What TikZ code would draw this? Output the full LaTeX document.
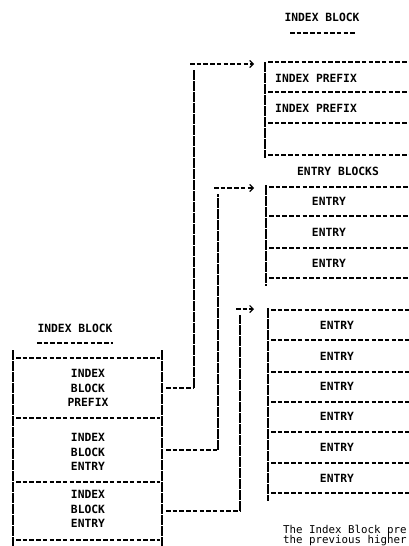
\documentclass[tikz,border=0pt]{standalone}
\usepackage{fontspec}
\setmonofont{DejaVu Sans Mono}
\usetikzlibrary{positioning, arrows.meta}

\begin{document}
\begin{tikzpicture}[
    x=1pt, y=-1pt,
    txt/.style={font=\fontsize{11.3}{14.5}\selectfont\ttfamily\bfseries, inner sep=0pt},
    stack/.style={txt, align=center},
    note/.style={font=\fontsize{10.8}{10}\selectfont\ttfamily, inner sep=0pt, anchor=base west},
    rule/.style={line width=1.3pt, dash pattern=on 4.5pt off 2.2pt},
    bar/.style={line width=1.3pt, dash pattern=on 10pt off 1pt},
    linkarr/.style={rule, -{Straight Barb[length=3.5pt, width=7pt, line width=1.2pt]}}
]
\useasboundingbox (0,0) rectangle (409,546);

% --- Left: index block ---
\node[txt] (lefttitle) at (75,328) {INDEX BLOCK};
\draw[rule] (37,343) -- (113,343);
\draw[bar] (13,350) -- (13,550);
\draw[bar] (162,350) -- (162,550);
\draw[rule] (16,358) -- (160,358);
\draw[rule] (16,418) -- (160,418);
\draw[rule] (16,482) -- (160,482);
\draw[rule] (16,540) -- (160,540);
\node[stack] (ibprefix) at (88,388) {INDEX\\BLOCK\\PREFIX};
\node[stack] (ibentryA) at (88,452) {INDEX\\BLOCK\\ENTRY};
\node[stack] (ibentryB) at (88,509) {INDEX\\BLOCK\\ENTRY};

% --- Right top: index block ---
\node[txt] (toptitle) at (322,17) {INDEX BLOCK};
\draw[rule] (290,33) -- (356,33);
\draw[bar] (265,62) -- (265,158);
\draw[rule] (268,62) -- (412,62);
\draw[rule] (268,92) -- (412,92);
\draw[rule] (268,123) -- (412,123);
\draw[rule] (268,155) -- (412,155);
\node[txt, anchor=west] (prefixA) at (275,78) {INDEX PREFIX};
\node[txt, anchor=west] (prefixB) at (275,108) {INDEX PREFIX};

% --- Right middle: entry blocks ---
\node[txt] (entryblocks) at (338,171) {ENTRY BLOCKS};
\draw[bar] (266,185) -- (266,286);
\draw[rule] (269,187) -- (412,187);
\draw[rule] (269,216) -- (412,216);
\draw[rule] (269,248) -- (412,248);
\draw[rule] (269,278) -- (412,278);
\node[txt] (entryA1) at (329,201) {ENTRY};
\node[txt] (entryA2) at (329,232) {ENTRY};
\node[txt] (entryA3) at (329,263) {ENTRY};

% --- Right lower: entry block ---
\draw[bar] (268,308) -- (268,501);
\draw[rule] (271,310) -- (412,310);
\draw[rule] (271,340) -- (412,340);
\draw[rule] (271,372) -- (412,372);
\draw[rule] (271,402) -- (412,402);
\draw[rule] (271,432) -- (412,432);
\draw[rule] (271,463) -- (412,463);
\draw[rule] (271,493) -- (412,493);
\node[txt] (entryB1) at (337,325) {ENTRY};
\node[txt] (entryB2) at (337,356) {ENTRY};
\node[txt] (entryB3) at (337,386) {ENTRY};
\node[txt] (entryB4) at (337,416) {ENTRY};
\node[txt] (entryB5) at (337,447) {ENTRY};
\node[txt] (entryB6) at (337,478) {ENTRY};

% --- Pointers ---
\coordinate (srcA) at (166,388);
\coordinate (srcB) at (166,450);
\coordinate (srcC) at (166,511);
\coordinate (bendA) at (194,388);
\coordinate (bendB) at (218,450);
\coordinate (bendC) at (240,511);
\coordinate (topA) at (194,64);
\coordinate (topB) at (218,188);
\coordinate (topC) at (240,309);
\coordinate (dstA) at (254,64);
\coordinate (dstB) at (254,188);
\coordinate (dstC) at (254,309);
\draw[rule] (srcA) -- (bendA);
\draw[bar] (bendA) -- ([yshift=-6]topA);
\draw[linkarr] ([xshift=-4]topA) -- (dstA);
\draw[rule] (srcB) -- (bendB);
\draw[bar] (bendB) -- ([yshift=-6]topB);
\draw[linkarr] ([xshift=-4]topB) -- (dstB);
\draw[rule] (srcC) -- (bendC);
\draw[bar] (bendC) -- ([yshift=-6]topC);
\draw[linkarr] ([xshift=-4]topC) -- (dstC);

% --- Note ---
\node[note] (noteA) at (283,533) {The Index Block pre};
\node[note] (noteB) at (283,543) {the previous higher};

\end{tikzpicture}
\end{document}
